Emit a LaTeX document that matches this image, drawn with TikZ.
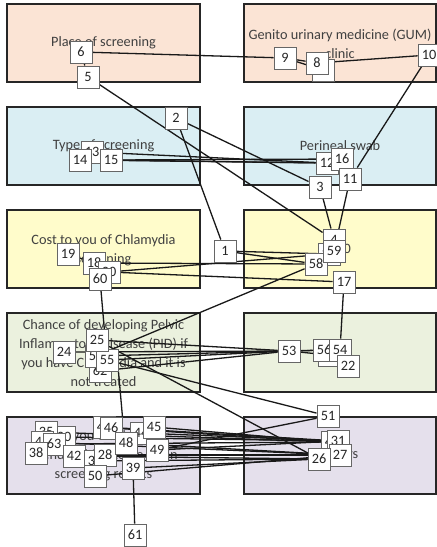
\documentclass[tikz,border=0pt]{standalone}
\usepackage{fontspec}
\setmainfont{Carlito}

\pgfdeclarelayer{panels}
\pgfdeclarelayer{links}
\pgfsetlayers{panels,links,main}

\definecolor{peach}{HTML}{FBE4D5}
\definecolor{skyb}{HTML}{DAEEF3}
\definecolor{lemon}{HTML}{FFFCCB}
\definecolor{sage}{HTML}{EBF1DE}
\definecolor{lilac}{HTML}{E5E0EC}
\definecolor{inkgray}{HTML}{404040}

\tikzset{
  panel/.style={draw=black!85, line width=1.3pt},
  paneltext/.style={text=inkgray, font=\fontsize{14.3}{19}\selectfont, align=center, inner sep=0pt},
  tag/.style={draw=black!60, fill=white, line width=0.9pt, minimum width=22pt,
    minimum height=22pt, inner sep=0pt, font=\fontsize{14.3}{16}\selectfont, text=black!85},
  link/.style={line width=1.3pt, draw=black!90}
}

\begin{document}
\begin{tikzpicture}[x=1pt,y=-1pt]
\useasboundingbox (0,0) rectangle (437,547);

% attribute panels
\begin{pgfonlayer}{panels}
  \fill[white] (0,0) rectangle (437,547);
  \draw[panel, fill=peach] (7,4) rectangle (200,82);
  \draw[panel, fill=peach] (244,4) rectangle (436,82);
  \draw[panel, fill=skyb] (7,107) rectangle (200,185);
  \draw[panel, fill=skyb] (244,107) rectangle (436,185);
  \draw[panel, fill=lemon] (7,210) rectangle (200,288);
  \draw[panel, fill=lemon] (244,210) rectangle (436,288);
  \draw[panel, fill=sage] (7,313) rectangle (200,392);
  \draw[panel, fill=sage] (244,313) rectangle (436,392);
  \draw[panel, fill=lilac] (7,417) rectangle (200,494);
  \draw[panel, fill=lilac] (244,417) rectangle (436,494);

  \node[paneltext] (tA1) at (103.5,43) {Place of screening};
  \node[paneltext] (tB1) at (340,44) {Genito urinary medicine (GUM)\\clinic};
  \node[paneltext] (tA2) at (103.5,146) {Type of screening};
  \node[paneltext] (tB2) at (340,146) {Perineal swab};
  \node[paneltext] (tA3) at (103.5,250) {Cost to you of Chlamydia\\screening};
  \node[paneltext] (tB3) at (340,249) {£20};
  \node[paneltext] (tA4) at (103.5,353) {Chance of developing Pelvic\\Inflammatory Disease (PID) if\\you have Chlamydia and it is\\not treated};
  \node[paneltext] (tB4) at (340,352) {25\%};
  \node[paneltext] (tA5) at (103.5,456) {Time you would need\\spend waiting to be given\\screening results};
  \node[paneltext] (tB5) at (340,455) {7 days};
\end{pgfonlayer}

% numbered markers (later ones sit on top)
\node[tag] (n6) at (81,52) {6};
\node[tag] (n5) at (88,77) {5};
\node[tag] (n9) at (285,58) {9};
\node[tag] (n7) at (323,70) {7};
\node[tag] (n8) at (317,63) {8};
\node[tag] (n10) at (429,55) {10};

\node[tag] (n2) at (176,118) {2};
\node[tag] (n13) at (92,152) {13};
\node[tag] (n14) at (80,160) {14};
\node[tag] (n15) at (111,160) {15};
\node[tag] (n12) at (327,163) {12};
\node[tag] (n16) at (342,159) {16};
\node[tag] (n11) at (350,179) {11};
\node[tag] (n3) at (320,187) {3};

\node[tag] (n19) at (68,254) {19};
\node[tag] (n18) at (94,263) {18};
\node[tag] (n20) at (109,272) {20};
\node[tag] (n60) at (100,279) {60};
\node[tag] (n1) at (225,251) {1};
\node[tag] (n21) at (329,254) {21};
\node[tag] (n4) at (334,240) {4};
\node[tag] (n58) at (316,264) {58};
\node[tag] (n59) at (334,251) {59};
\node[tag] (n17) at (344,282) {17};

\node[tag] (n24) at (64,352) {24};
\node[tag] (n62) at (100,371) {62};
\node[tag] (n57) at (96,356) {57};
\node[tag] (n55) at (107,360) {55};
\node[tag] (n25) at (97,340) {25};
\node[tag] (n53) at (289,351) {53};
\node[tag] (n23) at (329,355) {23};
\node[tag] (n56) at (324,350) {56};
\node[tag] (n54) at (340,350) {54};
\node[tag] (n22) at (348,366) {22};

\node[tag] (n30) at (64,437) {30};
\node[tag] (n35) at (46,432) {35};
\node[tag] (n43) at (42,442) {43};
\node[tag] (n63) at (54,444) {63};
\node[tag] (n38) at (36,453) {38};
\node[tag] (n42) at (74,456) {42};
\node[tag] (n40) at (104,427) {40};
\node[tag] (n46) at (111,428) {46};
\node[tag] (n44) at (141,433) {44};
\node[tag] (n45) at (154,427) {45};
\node[tag] (n37) at (95,461) {37};
\node[tag] (n28) at (105,455) {28};
\node[tag] (n50) at (95,476) {50};
\node[tag] (n48) at (126,443) {48};
\node[tag] (n49) at (157,450) {49};
\node[tag] (n39) at (133,468) {39};
\node[tag] (n51) at (328,416) {51};
\node[tag] (n41) at (332,442) {41};
\node[tag] (n31) at (338,441) {31};
\node[tag] (n27) at (340,455) {27};
\node[tag] (n26) at (319,459) {26};
\node[tag] (n61) at (135,535) {61};

% connectors, drawn beneath the markers
\begin{pgfonlayer}{links}
  \draw[link] (n6) -- (n5);
  \draw[link] (n6) -- (n9);
  \draw[link] (n9) -- (n8);
  \draw[link] (n9) -- (n7);
  \draw[link] (n8) -- (n10);
  \draw[link] (n10) -- (n11);
  \draw[link] (n5) -- (n4);
  \draw[link] (n2) -- (n1);
  \draw[link] (n2) -- (n3);
  \draw[link] (n13) -- (n12);
  \draw[link] (n14) -- (n12);
  \draw[link] (n15) -- (n12);
  \draw[link] (n15) -- (n16);
  \draw[link] (n3) -- (n4);
  \draw[link] (n11) -- (n59);
  \draw[link] (n19) -- (n18);
  \draw[link] (n18) -- (n58);
  \draw[link] (n20) -- (n21);
  \draw[link] (n20) -- (n17);
  \draw[link] (n1) -- (n58);
  \draw[link] (n1) -- (n21);
  \draw[link] (n60) -- (n55);
  \draw[link] (n58) -- (n57);
  \draw[link] (n17) -- (n54);
  \draw[link] (n24) -- (n53);
  \draw[link] (n25) -- (n53);
  \draw[link] (n57) -- (n53);
  \draw[link] (n55) -- (n53);
  \draw[link] (n62) -- (n53);
  \draw[link] (n53) -- (n56);
  \draw[link] (n53) -- (n23);
  \draw[link] (n53) -- (n54);
  \draw[link] (n55) -- (n51);
  \draw[link] (n25) -- (n26);
  \draw[link] (n55.south east) -- (n46.north east);
  \draw[link] (n51) -- (n49);
  \draw[link] (n39) -- (n61);
  \draw[link] (n35) -- (n41);
  \draw[link] (n30) -- (n31);
  \draw[link] (n63) -- (n41);
  \draw[link] (n43) -- (n27);
  \draw[link] (n40) -- (n31);
  \draw[link] (n46) -- (n41);
  \draw[link] (n44) -- (n31);
  \draw[link] (n45) -- (n41);
  \draw[link] (n48) -- (n27);
  \draw[link] (n49) -- (n31);
  \draw[link] (n42) -- (n26);
  \draw[link] (n28) -- (n27);
  \draw[link] (n37) -- (n26);
  \draw[link] (n50) -- (n27);
  \draw[link] (n39) -- (n26);
\end{pgfonlayer}
\end{tikzpicture}
\end{document}
